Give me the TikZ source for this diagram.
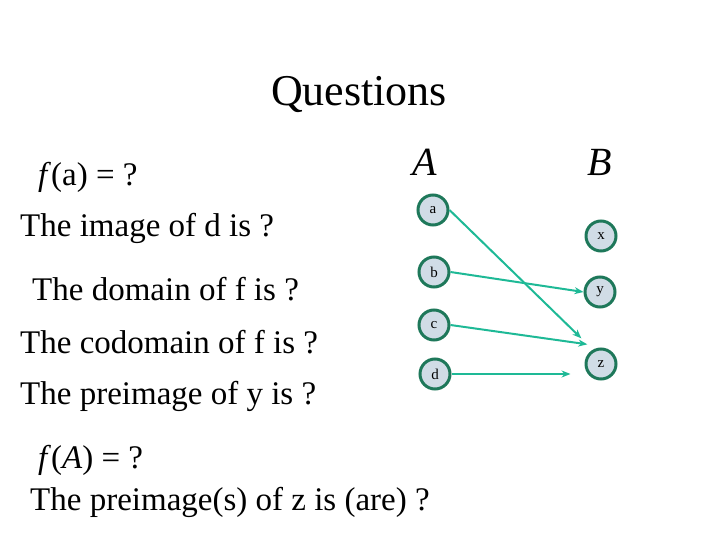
\documentclass[tikz,border=0pt]{standalone}
\usepackage{fontspec}
\setmainfont{Liberation Serif}
\usetikzlibrary{arrows.meta}
\definecolor{cfill}{RGB}{208,220,230}
\definecolor{cedge}{RGB}{30,120,90}
\definecolor{carrow}{RGB}{30,185,150}
\tikzset{x=1pt,y=-1pt,
 elem/.style={circle,draw=cedge,line width=3pt,fill=cfill,minimum size=30pt,inner sep=0pt,font=\fontsize{15}{15}\selectfont},
 txt/.style={anchor=west,inner sep=0pt,font=\fontsize{33}{35}\selectfont},
 map/.style={draw=carrow,line width=2pt,-{Stealth[length=9pt,width=7pt]}}}
\begin{document}
\begin{tikzpicture}
\useasboundingbox (0,0) rectangle (720,540);
\node[font=\fontsize{44}{44}\selectfont] (q) at (359,95) {Questions};
\node[txt] (t1) at (38,177) {\textit{f}(a) = ?};
\node[txt] (t2) at (20,228) {The image of d is ?};
\node[txt] (t3) at (32,289) {The domain of f is ?};
\node[txt] (t4) at (20,342) {The codomain of f is ?};
\node[txt] (t5) at (20,396) {The preimage of y is ?};
\node[txt] (t6) at (38,460) {\textit{f}(\textit{A}) = ?};
\node[txt] (t7) at (30,502) {The preimage(s) of z is (are) ?};
\node[font=\fontsize{40}{40}\selectfont\itshape] (A) at (425,162) {A};
\node[font=\fontsize{40}{40}\selectfont\itshape] (B) at (600,162) {B};
\node[elem] (a) at (433,210) {a};
\node[elem] (b) at (434,272) {b};
\node[elem] (c) at (434,325) {c};
\node[elem] (d) at (435,374) {d};
\node[elem] (x) at (601,236) {x};
\node[elem] (y) at (600,292) {y};
\node[elem] (z) at (601,364) {z};
\draw[map] (a.east) -- ([shift={(-8,-14)}]z.north west);
\draw[map] (b.east) -- (y.west);
\draw[map] (c.east) -- ([shift={(-2,-8)}]z.north west);
\draw[map] (d.east) -- ([xshift=-14pt]z.west |- d.east);
\end{tikzpicture}
\end{document}
